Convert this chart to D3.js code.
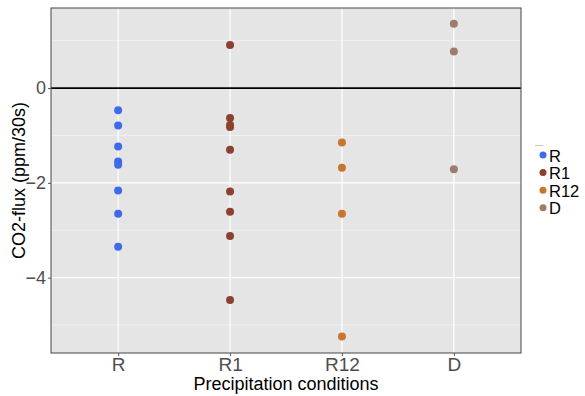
<!DOCTYPE html>
<html>
<head>
<meta charset="utf-8">
<script src="https://cdn.jsdelivr.net/npm/d3@7"></script>
<style>
  html, body { margin: 0; padding: 0; background: #fff; }
  svg { display: block; font-family: "Liberation Sans", Arial, sans-serif; }
</style>
</head>
<body>
<svg id="chart" width="585" height="396"></svg>
<script>
// Precipitation treatments and their colours
const categories = ["R", "R1", "R12", "D"];
const colors = ["#3f6be8", "#8b4030", "#c87530", "#9e7b6a"];

// CO2 flux measurements (ppm/30s) per treatment
const fluxR   = [-0.47, -0.79, -1.23, -1.55, -1.62, -2.16, -2.65, -3.35];
const fluxR1  = [0.91, -0.63, -0.78, -0.82, -1.30, -2.18, -2.61, -3.12, -4.47];
const fluxR12 = [-1.15, -1.68, -2.65, -5.24];
const fluxD   = [1.36, 0.77, -1.71];

const yTicks = [0, -2, -4];
const yMinor = [1, -1, -3, -5];

const seriesValues = [fluxR, fluxR1, fluxR12, fluxD];
const points = [];
categories.forEach((c, i) => seriesValues[i].forEach(v => points.push({ cat: c, value: v, color: colors[i] })));

const svg = d3.select("#chart");
const panel = { left: 51, top: 8, right: 521, bottom: 353 };

const x = d3.scalePoint()
  .domain(categories)
  .range([panel.left, panel.right])
  .padding(0.6);

const y = d3.scaleLinear()
  .domain([-5.59, 1.69])
  .range([panel.bottom, panel.top]);

// panel background
svg.append("rect")
  .attr("x", panel.left).attr("y", panel.top)
  .attr("width", panel.right - panel.left)
  .attr("height", panel.bottom - panel.top)
  .attr("fill", "#e5e5e5");

// minor grid
svg.append("g").selectAll("line").data(yMinor).join("line")
  .attr("x1", panel.left).attr("x2", panel.right)
  .attr("y1", d => y(d)).attr("y2", d => y(d))
  .attr("stroke", "#f4f4f4").attr("stroke-width", 0.7);

// major grid
svg.append("g").selectAll("line").data(yTicks).join("line")
  .attr("x1", panel.left).attr("x2", panel.right)
  .attr("y1", d => y(d)).attr("y2", d => y(d))
  .attr("stroke", "#ffffff").attr("stroke-width", 1.2);
svg.append("g").selectAll("line").data(categories).join("line")
  .attr("x1", d => x(d)).attr("x2", d => x(d))
  .attr("y1", panel.top).attr("y2", panel.bottom)
  .attr("stroke", "#ffffff").attr("stroke-width", 1.2);

// zero reference line
svg.append("line")
  .attr("x1", panel.left).attr("x2", panel.right)
  .attr("y1", y(0)).attr("y2", y(0))
  .attr("stroke", "#000").attr("stroke-width", 1.6);

// points
svg.append("g").selectAll("circle").data(points).join("circle")
  .attr("cx", d => x(d.cat))
  .attr("cy", d => y(d.value))
  .attr("r", 4)
  .attr("fill", d => d.color);

// panel border
svg.append("rect")
  .attr("x", panel.left).attr("y", panel.top)
  .attr("width", panel.right - panel.left)
  .attr("height", panel.bottom - panel.top)
  .attr("fill", "none")
  .attr("stroke", "#555").attr("stroke-width", 1.1);

// y axis
const yAxis = svg.append("g")
  .attr("transform", `translate(${panel.left},0)`)
  .call(d3.axisLeft(y).tickValues(yTicks).tickSize(3).tickFormat(d3.format("d")));
yAxis.select(".domain").remove();
yAxis.selectAll("line").attr("stroke", "#555");
yAxis.selectAll("text").attr("fill", "#4d4d4d").attr("font-size", 18)
  .attr("font-family", "Liberation Sans, Arial, sans-serif").attr("x", -5);

// x axis
const xAxis = svg.append("g")
  .attr("transform", `translate(0,${panel.bottom})`)
  .call(d3.axisBottom(x).tickSize(3));
xAxis.select(".domain").remove();
xAxis.selectAll("line").attr("stroke", "#555");
xAxis.selectAll("text").attr("fill", "#4d4d4d").attr("font-size", 19)
  .attr("font-family", "Liberation Sans, Arial, sans-serif").attr("y", 5);

// axis titles
svg.append("text")
  .attr("x", (panel.left + panel.right) / 2).attr("y", 390)
  .attr("text-anchor", "middle").attr("font-size", 18).attr("fill", "#000")
  .text("Precipitation conditions");
svg.append("text")
  .attr("transform", `translate(25,${(panel.top + panel.bottom) / 2}) rotate(-90)`)
  .attr("text-anchor", "middle").attr("font-size", 18).attr("fill", "#000")
  .text("CO2-flux (ppm/30s)");

// legend
const legend = svg.append("g").attr("transform", "translate(535,146)");
legend.append("text").attr("x", 0).attr("y", 0).attr("font-size", 2.5).attr("fill", "#666").text("Groupe");
const item = legend.selectAll("g.item").data(categories).join("g")
  .attr("class", "item")
  .attr("transform", (d, i) => `translate(0,${9 + i * 17.6})`);
item.append("circle").attr("cx", 8).attr("cy", 0).attr("r", 3.5)
  .attr("fill", (d, i) => colors[i]);
item.append("text").attr("x", 14).attr("y", 6.5).attr("font-size", 16.5).attr("fill", "#000")
  .text(d => d);
</script>
</body>
</html>
